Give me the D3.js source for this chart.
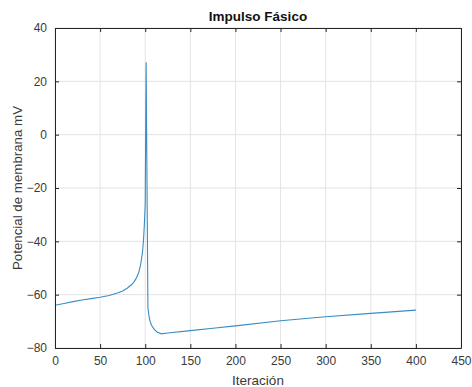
<!DOCTYPE html>
<html>
<head>
<meta charset="utf-8">
<script src="https://cdn.jsdelivr.net/npm/d3@7"></script>
<style>
  body { margin: 0; background: #fff; }
  text { font-family: Arial, "Liberation Sans", sans-serif; }
</style>
</head>
<body>
<svg id="chart" width="472" height="387"></svg>
<script>
// iteration / membrane potential
const iterations = [0, 10, 20, 30, 40, 50, 60, 70, 75, 80, 85, 88, 90, 93, 95, 97, 98, 99, 100, 101, 103,
  104, 105, 107, 110, 113, 118, 125, 150, 175, 200, 250, 300, 350, 400];
const potential = [-64, -63.3, -62.6, -62, -61.5, -61, -60.3, -59.3, -58.6, -57.6, -56.2, -55, -53.9, -51.5, -48.5, -44, -40, -34, -26, 27.2, -65,
  -67.5, -69.5, -71.5, -73, -74, -74.7, -74.4, -73.5, -72.6, -71.7, -69.8, -68.3, -67, -65.8];
const xTicks = [0, 50, 100, 150, 200, 250, 300, 350, 400, 450];
const yTicks = [-80, -60, -40, -20, 0, 20, 40];

const svg = d3.select('#chart');
const margin = {left: 55, top: 28, right: 11, bottom: 39};
const W = 472, H = 387;
const x = d3.scaleLinear().domain([0, 450]).range([margin.left, W - margin.right]);
const y = d3.scaleLinear().domain([-80, 40]).range([H - margin.bottom, margin.top]);

const axisColor = '#262626';

// grid
svg.append('g').selectAll('line.vx').data(xTicks).join('line')
  .attr('x1', d => x(d)).attr('x2', d => x(d))
  .attr('y1', y(-80)).attr('y2', y(40))
  .attr('stroke', '#e3e3e3').attr('stroke-width', 1);
svg.append('g').selectAll('line.hy').data(yTicks).join('line')
  .attr('y1', d => y(d)).attr('y2', d => y(d))
  .attr('x1', x(0)).attr('x2', x(450))
  .attr('stroke', '#e3e3e3').attr('stroke-width', 1);

// data line
const line = d3.line().x((d, i) => x(iterations[i])).y(d => y(d));
svg.append('path').datum(potential)
  .attr('d', line)
  .attr('fill', 'none')
  .attr('stroke', '#3a8cc4')
  .attr('stroke-width', 1.1);

// axes (MATLAB style: inward ticks, box)
const fmt = d3.format('d');
svg.append('g').attr('transform', `translate(0,${y(-80)})`)
  .call(d3.axisBottom(x).tickValues(xTicks).tickSizeInner(-4).tickSizeOuter(0).tickPadding(8).tickFormat(fmt));
svg.append('g').attr('transform', `translate(0,${y(40)})`)
  .call(d3.axisTop(x).tickValues(xTicks).tickSizeInner(-4).tickSizeOuter(0).tickFormat(''));
svg.append('g').attr('transform', `translate(${x(0)},0)`)
  .call(d3.axisLeft(y).tickValues(yTicks).tickSizeInner(-4).tickSizeOuter(0).tickPadding(8).tickFormat(fmt));
svg.append('g').attr('transform', `translate(${x(450)},0)`)
  .call(d3.axisRight(y).tickValues(yTicks).tickSizeInner(-4).tickSizeOuter(0).tickFormat(''));

svg.selectAll('.domain, .tick line').attr('stroke', axisColor);
svg.selectAll('.tick text').attr('fill', '#3a3a3a').style('font-size', '12px');

// title and labels
svg.append('text')
  .attr('x', (x(0) + x(450)) / 2).attr('y', 21)
  .attr('text-anchor', 'middle')
  .style('font-size', '13.5px').style('font-weight', 'bold')
  .attr('fill', '#111')
  .text('Impulso Fásico');

svg.append('text')
  .attr('x', (x(0) + x(450)) / 2).attr('y', 385)
  .attr('text-anchor', 'middle')
  .style('font-size', '13.5px')
  .attr('fill', '#3a3a3a')
  .text('Iteración');

svg.append('text')
  .attr('transform', `translate(22,${(y(-80) + y(40)) / 2}) rotate(-90)`)
  .attr('text-anchor', 'middle')
  .style('font-size', '13.3px')
  .attr('fill', '#3a3a3a')
  .text('Potencial de membrana mV');
</script>
</body>
</html>
